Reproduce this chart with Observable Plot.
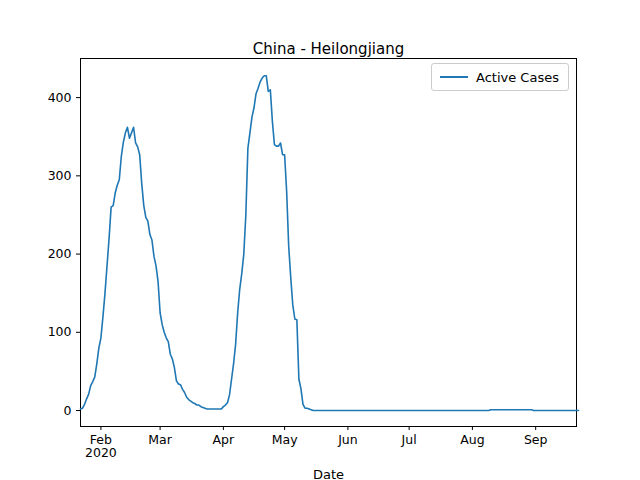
<!DOCTYPE html>
<html><head><meta charset="utf-8">
<script src="https://cdn.jsdelivr.net/npm/d3@7"></script>
<script src="https://cdn.jsdelivr.net/npm/@observablehq/plot@0.6"></script>
<style>
body{margin:0;background:#fff;font-family:"DejaVu Sans",sans-serif;}
#wrap{position:relative;width:640px;height:480px;}
#legend{position:absolute;left:431px;top:63px;width:136px;height:26px;border:1px solid #ccc;border-radius:3px;background:#fff;font-size:13px;display:flex;align-items:center;}
#legend span.l{display:inline-block;width:28px;height:2px;background:#1f77b4;margin:0 8px 0 8px;}
</style></head><body>
<div id="wrap"><div id="chart"></div><div id="legend"><span class="l"></span>Active Cases</div></div>
<script>
const startDate = "2020-01-22";
const endDate = "2020-09-21";
// daily active cases from Jan 22
const active = [
2,3,8,15,21,32,37,43,60,80,
93,120,150,185,220,260,262,278,288,295,325,343,355,362,348,355,362,342,337,327,290,262,247,242,225,218,197,185,165,
125,110,100,93,88,72,66,55,38,34,33,27,23,17,14,12,10,9,7,7,5,4,3,2,2,2,2,2,2,2,2,
5,7,10,20,40,60,85,125,155,175,200,250,335,355,375,387,405,412,420,425,428,428,408,410,370,340,338,338,342,327,
327,280,210,170,135,117,116,40,28,8,3,3,2,1,
0,0,0,0,0,0,0,0,0,0,0,0,0,0,0,0,0,
0,0,0,0,0,0,0,0,0,0,0,0,0,0,0,0,0,0,0,0,0,0,0,0,0,0,0,0,0,0,
0,0,0,0,0,0,0,0,0,0,0,0,0,0,0,0,0,0,0,0,0,0,0,0,0,0,0,0,0,0,0,
0,0,0,0,0,0,0,0,0,1,1,1,1,1,1,1,1,1,1,1,1,1,1,1,1,1,1,1,1,1,0,0,
0,0,0,0,0,0,0,0,0,0,0,0,0,0,0,0,0,0,0,0,0
];
const yTicks = [0,100,200,300,400];
const monthTicks = ["2020-02-01","2020-03-01","2020-04-01","2020-05-01","2020-06-01","2020-07-01","2020-08-01","2020-09-01"].map(d=>new Date(d));

const t0 = new Date(startDate);
const data = active.map((v,i)=>({date:d3.utcDay.offset(t0,i), value:v}));

const chart = Plot.plot({
  width:640, height:480,
  marginLeft:80, marginRight:64, marginTop:58, marginBottom:54,
  style:{fontFamily:"DejaVu Sans", fontSize:"12.5px", color:"black"},
  x:{type:"utc", domain:[t0,new Date(endDate)], ticks:monthTicks, tickSize:4,
     tickFormat:d=>d3.utcFormat("%b")(d)+(d.getUTCMonth()===1?"\n2020":""), label:null},
  y:{domain:[-20.4,450], ticks:yTicks, tickSize:4, label:null},
  marks:[
    Plot.frame({stroke:"black"}),
    Plot.line(data,{x:"date",y:"value",stroke:"#1f77b4",strokeWidth:1.6}),
    Plot.text(["China - Heilongjiang"],{frameAnchor:"top",dy:-15,fontSize:15}),
    Plot.text(["Date"],{frameAnchor:"bottom",dy:52,fontSize:13})
  ]
});
document.getElementById("chart").append(chart);
</script></body></html>
